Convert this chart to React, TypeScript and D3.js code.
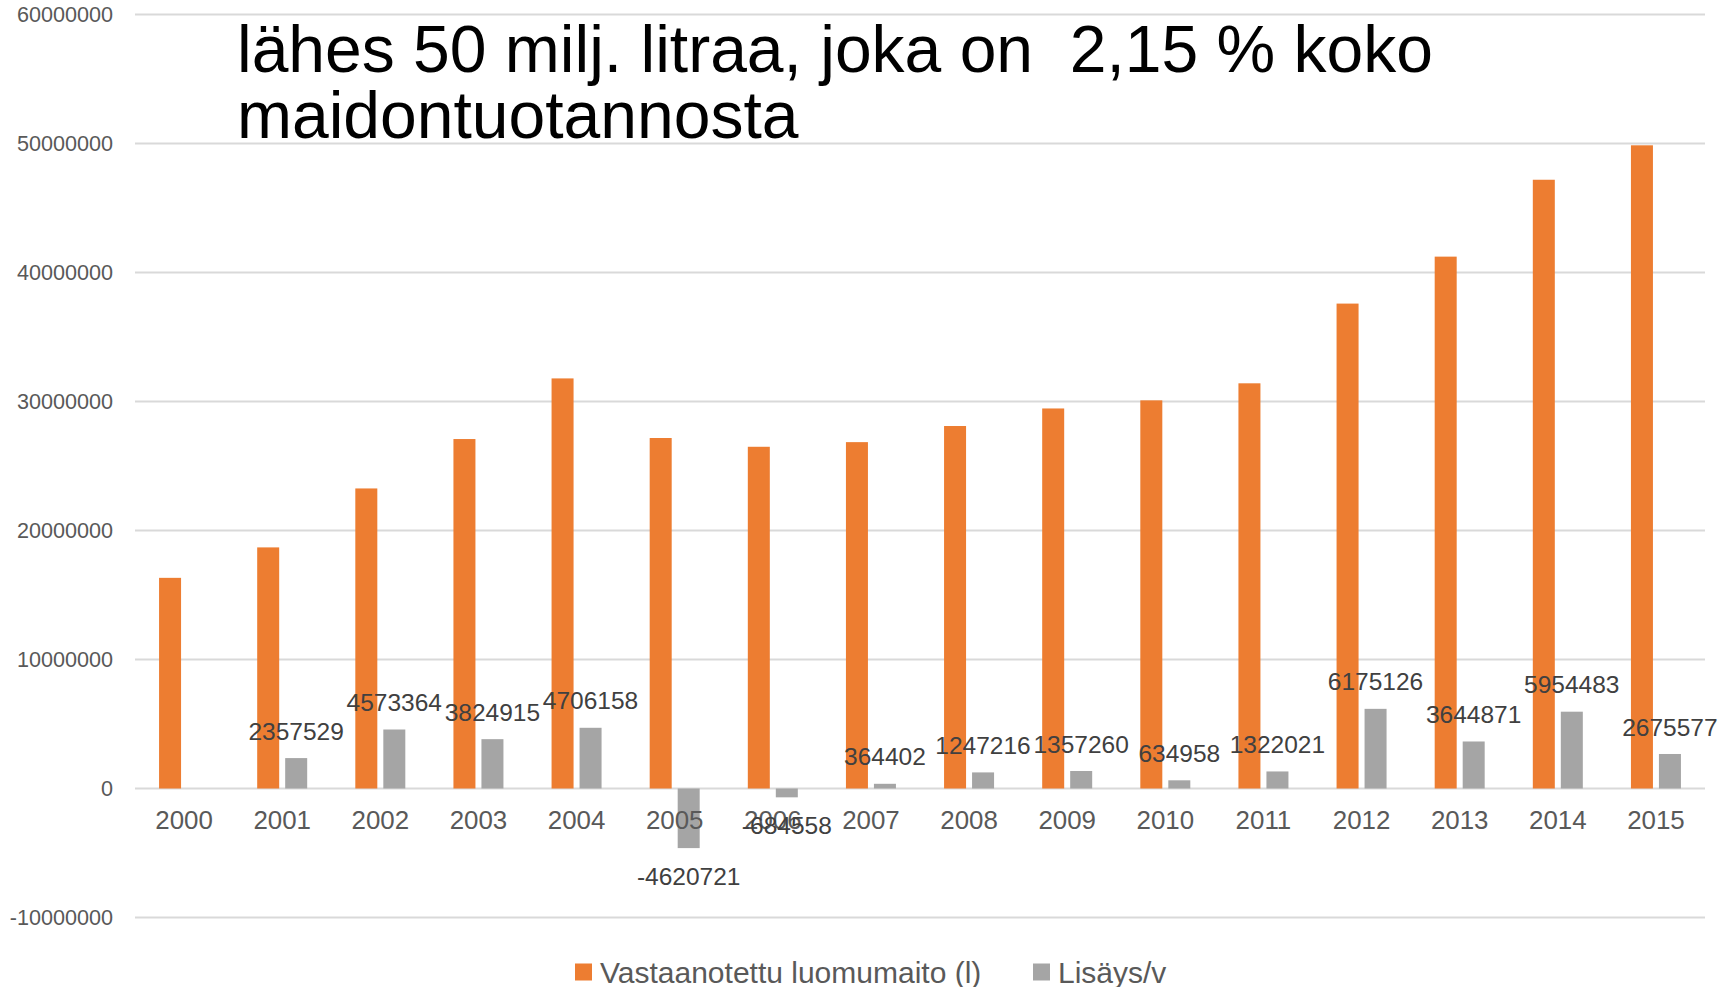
import { useEffect, useRef } from 'react';
import { select, scaleBand, scaleLinear } from 'd3';

const years = [
  '2000', '2001', '2002', '2003', '2004', '2005', '2006', '2007',
  '2008', '2009', '2010', '2011', '2012', '2013', '2014', '2015',
];

// Vastaanotettu luomumaito (l)
const received = [
  16330000, 18690000, 23260000, 27090000, 31790000, 27170000, 26490000, 26850000,
  28100000, 29460000, 30090000, 31410000, 37590000, 41230000, 47190000, 49860000,
];

// Lisäys/v
const increase = [
  null, 2357529, 4573364, 3824915, 4706158, -4620721, -684558, 364402,
  1247216, 1357260, 634958, 1322021, 6175126, 3644871, 5954483, 2675577,
];

const yTicks = [-10000000, 0, 10000000, 20000000, 30000000, 40000000, 50000000, 60000000];

const titleLines = ['lähes 50 milj. litraa, joka on  2,15 % koko', 'maidontuotannosta'];

const seriesNames = ['Vastaanotettu luomumaito (l)', 'Lisäys/v'];
const colors = ['#ED7D31', '#A5A5A5'];

const W = 1733;
const H = 987;
const FONT = '"Liberation Sans", Arial, sans-serif';

const App = () => {
  const svgRef = useRef<SVGSVGElement>(null);

  useEffect(() => {
    const svg = select(svgRef.current);
    svg.selectAll('*').remove();

    const x = scaleBand().domain(years).range([135, 1705]).padding(0);
    const y = scaleLinear().domain([-10000000, 60000000]).range([917.5, 14.5]);
    const barW = 22;
    const gap = 3;

    // gridlines
    svg
      .append('g')
      .selectAll('line')
      .data(yTicks)
      .join('line')
      .attr('x1', 135)
      .attr('x2', 1705)
      .attr('y1', (d) => y(d))
      .attr('y2', (d) => y(d))
      .attr('stroke', '#D9D9D9')
      .attr('stroke-width', 2);

    // y tick labels
    svg
      .append('g')
      .selectAll('text')
      .data(yTicks)
      .join('text')
      .attr('x', 113)
      .attr('y', (d) => y(d))
      .attr('dy', '0.35em')
      .attr('text-anchor', 'end')
      .attr('font-family', FONT)
      .attr('font-size', 21.6)
      .attr('fill', '#595959')
      .text((d) => String(d));

    const center = (yr: string) => (x(yr) as number) + x.bandwidth() / 2;

    // orange bars
    svg
      .append('g')
      .selectAll('rect')
      .data(received)
      .join('rect')
      .attr('x', (_, i) => center(years[i]) - gap - barW)
      .attr('width', barW)
      .attr('y', (d) => y(d))
      .attr('height', (d) => y(0) - y(d))
      .attr('fill', colors[0]);

    const inc = increase
      .map((v, i) => ({ v, yr: years[i] }))
      .filter((d) => d.v !== null) as { v: number; yr: string }[];

    // gray bars
    svg
      .append('g')
      .selectAll('rect')
      .data(inc)
      .join('rect')
      .attr('x', (d) => center(d.yr) + gap)
      .attr('width', barW)
      .attr('y', (d) => y(Math.max(0, d.v)))
      .attr('height', (d) => Math.abs(y(d.v) - y(0)))
      .attr('fill', colors[1]);

    // year labels
    svg
      .append('g')
      .selectAll('text')
      .data(years)
      .join('text')
      .attr('x', (d) => center(d))
      .attr('y', 820)
      .attr('dy', '0.35em')
      .attr('text-anchor', 'middle')
      .attr('font-family', FONT)
      .attr('font-size', 25.9)
      .attr('fill', '#595959')
      .text((d) => d);

    // data labels
    svg
      .append('g')
      .selectAll('text')
      .data(inc)
      .join('text')
      .attr('x', (d) => center(d.yr) + gap + barW / 2)
      .attr('y', (d) => (d.v >= 0 ? y(d.v) - 27 : y(d.v) + 28))
      .attr('dy', '0.35em')
      .attr('text-anchor', 'middle')
      .attr('font-family', FONT)
      .attr('font-size', 24.5)
      .attr('fill', '#404040')
      .text((d) => String(d.v));

    // title
    svg
      .append('g')
      .selectAll('text')
      .data(titleLines)
      .join('text')
      .attr('x', 237)
      .attr('y', (_, i) => 72 + i * 66)
      .attr('font-family', FONT)
      .attr('font-size', 66)
      .attr('fill', '#000000')
      .attr('xml:space', 'preserve')
      .style('white-space', 'pre')
      .text((d) => d);

    // legend
    const legendX = [575, 1033];
    const lg = svg
      .append('g')
      .selectAll('g')
      .data(seriesNames)
      .join('g')
      .attr('transform', (_, i) => `translate(${legendX[i]}, 972)`);
    lg.append('rect')
      .attr('x', 0)
      .attr('y', -8.5)
      .attr('width', 17)
      .attr('height', 17)
      .attr('fill', (_, i) => colors[i]);
    lg.append('text')
      .attr('x', 25)
      .attr('y', 0)
      .attr('dy', '0.35em')
      .attr('font-family', FONT)
      .attr('font-size', 30)
      .attr('fill', '#595959')
      .text((d) => d);
  }, []);

  return (
    <svg
      ref={svgRef}
      width={W}
      height={H}
      style={{ position: 'absolute', left: 0, top: 0, background: '#fff' }}
    />
  );
};

export default App;
